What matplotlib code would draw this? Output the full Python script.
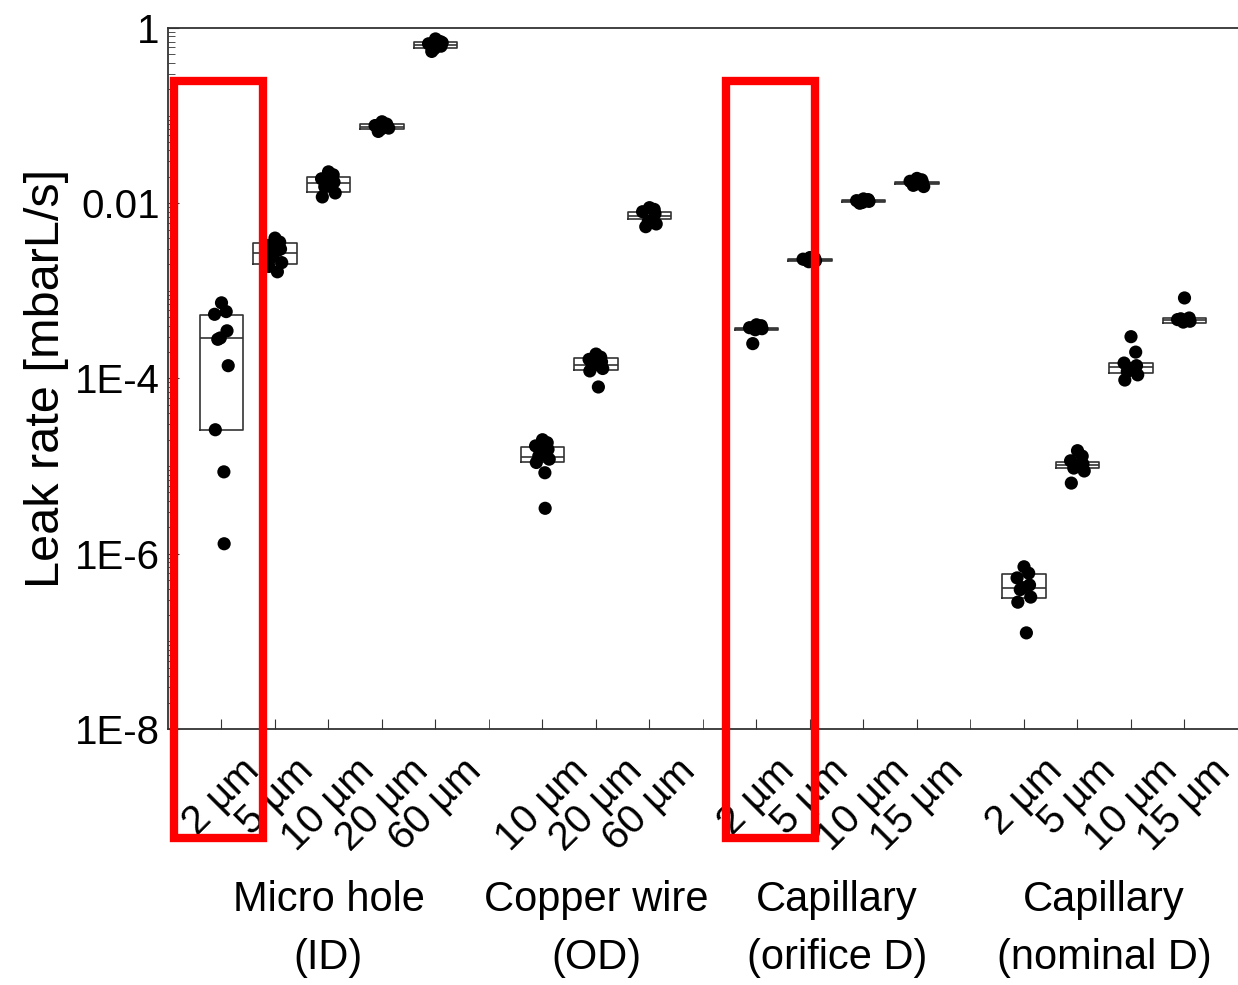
import numpy as np
import matplotlib
matplotlib.use('Agg')
import matplotlib.pyplot as plt
from matplotlib.patches import Rectangle
from matplotlib.ticker import FixedLocator, NullFormatter
import matplotlib.transforms as mtransforms

plt.rcParams['font.family'] = ['Liberation Sans', 'DejaVu Sans']
plt.rcParams['font.size'] = 29

# groups and sizes
group_names = ['Micro hole\n(ID)', 'Copper wire\n(OD)', 'Capillary\n(orifice D)', 'Capillary\n(nominal D)']
group_labels = [
    ['2 µm', '5 µm', '10 µm', '20 µm', '60 µm'],
    ['10 µm', '20 µm', '60 µm'],
    ['2 µm', '5 µm', '10 µm', '15 µm'],
    ['2 µm', '5 µm', '10 µm', '15 µm'],
]

# measured leak rates (mbarL/s)
micro_hole = [
    [7.3e-4, 5.8e-4, 5.4e-4, 3.5e-4, 2.9e-4, 2.8e-4, 1.4e-4, 2.6e-5, 8.6e-6, 1.3e-6],
    [4.0e-3, 3.6e-3, 3.3e-3, 3.0e-3, 2.7e-3, 2.4e-3, 2.1e-3, 1.9e-3, 1.65e-3, 2.9e-3],
    [0.0228, 0.0211, 0.0190, 0.0174, 0.0162, 0.0154, 0.0131, 0.0118],
    [0.085, 0.080, 0.077, 0.074, 0.070, 0.066, 0.072],
    [0.75, 0.70, 0.66, 0.62, 0.58, 0.54, 0.68],
]
copper_wire = [
    [2.0e-5, 1.85e-5, 1.7e-5, 1.55e-5, 1.4e-5, 1.3e-5, 1.2e-5, 1.1e-5, 8.4e-6, 3.3e-6],
    [1.9e-4, 1.75e-4, 1.65e-4, 1.55e-4, 1.45e-4, 1.38e-4, 1.3e-4, 1.22e-4, 8.0e-5],
    [8.9e-3, 8.5e-3, 8.0e-3, 7.6e-3, 6.2e-3, 5.4e-3, 5.8e-3],
]
cap_orifice = [
    [4.1e-4, 4.0e-4, 3.8e-4, 3.7e-4, 3.6e-4, 2.5e-4],
    [2.4e-3, 2.35e-3, 2.3e-3, 2.2e-3, 2.15e-3, 2.25e-3],
    [0.0112, 0.0110, 0.0107, 0.0105, 0.0102, 0.0100],
    [0.0192, 0.0185, 0.0178, 0.0172, 0.0166, 0.0160, 0.0155],
]
cap_nominal = [
    [7.1e-7, 6.0e-7, 5.3e-7, 4.4e-7, 4.1e-7, 3.9e-7, 3.2e-7, 2.8e-7, 1.25e-7],
    [1.5e-5, 1.3e-5, 1.15e-5, 1.05e-5, 1.0e-5, 9.5e-6, 8.8e-6, 6.4e-6],
    [3.0e-4, 2.0e-4, 1.5e-4, 1.4e-4, 1.3e-4, 1.2e-4, 1.1e-4, 9.6e-5],
    [8.3e-4, 4.9e-4, 4.7e-4, 4.5e-4, 4.4e-4, 4.8e-4],
]
all_data = micro_hole + copper_wire + cap_orifice + cap_nominal

# box stats (q1, median, q3)
box_q1 = [2.6e-5, 2.0e-3, 0.0135, 0.0707, 0.595,
          1.12e-5, 1.25e-4, 6.6e-3,
          3.6e-4, 2.2e-3, 0.0104, 0.0167,
          3.1e-7, 9.5e-6, 1.16e-4, 4.31e-4]
box_med = [2.9e-4, 2.7e-3, 0.0171, 0.075, 0.643,
           1.27e-5, 1.43e-4, 7.2e-3,
           3.7e-4, 2.26e-3, 0.0106, 0.0171,
           4.1e-7, 1.03e-5, 1.36e-4, 4.67e-4]
box_q3 = [5.3e-4, 3.5e-3, 0.020, 0.0796, 0.695,
          1.66e-5, 1.72e-4, 8.0e-3,
          3.8e-4, 2.3e-3, 0.0108, 0.0176,
          5.9e-7, 1.12e-5, 1.51e-4, 4.92e-4]

y_ticks = [1e-8, 1e-6, 1e-4, 1e-2, 1]
y_ticklabels = ['1E-8', '1E-6', '1E-4', '0.01', '1']

# red highlight spans (x, in category units)
highlight_spans = [(-0.88, 0.77), (9.43, 11.1)]

# x positions: one empty slot between groups
positions = []
gap_ticks = []
p = 0
for labels in group_labels:
    for _ in labels:
        positions.append(p)
        p += 1
    gap_ticks.append(p)
    p += 1
tick_labels = [l for labels in group_labels for l in labels]

fig = plt.figure(figsize=(12.38, 9.85), dpi=100)
ax = fig.add_axes([0.1357, 0.2599, 0.8643, 0.7117])

stats = []
for q1, med, q3 in zip(box_q1, box_med, box_q3):
    stats.append({'med': med, 'q1': q1, 'q3': q3, 'whislo': q1, 'whishi': q3, 'fliers': []})
ax.bxp(stats, positions=positions, widths=0.82, showcaps=False, showfliers=False,
       boxprops=dict(color='#333333', linewidth=1.2),
       medianprops=dict(color='#333333', linewidth=1.2),
       whiskerprops=dict(linewidth=0), manage_ticks=False)

for pos, vals in zip(positions, all_data):
    n = len(vals)
    jit = 0.13 * np.sin(np.arange(n) * 2.4)
    ax.scatter(pos + jit, vals, s=90, color='black', zorder=3, edgecolors='none')

ax.set_yscale('log')
ax.set_ylim(1e-8, 1)
ax.set_xlim(-1, 19)

# labelled ticks every two decades, minor ticks elsewhere
ax.set_yticks(y_ticks)
ax.set_yticklabels(y_ticklabels)
ax.yaxis.set_minor_locator(FixedLocator(
    [m * 10.0 ** e for e in range(-8, 0) for m in range(1, 10) if not (m == 1 and e % 2 == 0)]))
ax.yaxis.set_minor_formatter(NullFormatter())

ax.set_xticks(positions)
ax.set_xticklabels(tick_labels, rotation=45, ha='center')
ax.set_xticks(gap_ticks, minor=True)
offset = mtransforms.ScaledTranslation(-14 / 100, 0, fig.dpi_scale_trans)
for lbl in ax.get_xticklabels():
    lbl.set_transform(lbl.get_transform() + offset)

ax.tick_params(axis='both', which='both', direction='in', color='#333333')
ax.tick_params(axis='x', which='both', length=7, pad=16)
ax.tick_params(axis='y', which='major', length=8, pad=6)
ax.tick_params(axis='y', which='minor', length=5)
ax.spines['right'].set_visible(False)
for s in ['left', 'top', 'bottom']:
    ax.spines[s].set_color('#333333')
    ax.spines[s].set_linewidth(1.3)

ax.set_ylabel('Leak rate [mbarL/s]', fontsize=35, labelpad=4)

# group names below the tick labels
start = 0
for name, labels in zip(group_names, group_labels):
    mid = np.mean(positions[start:start + len(labels)])
    start += len(labels)
    ax.text(mid, -0.215, name, transform=ax.get_xaxis_transform(), ha='center', va='top',
            fontsize=30, linespacing=1.6)

# red highlight boxes
for x0, x1 in highlight_spans:
    rect = Rectangle((x0, -0.155), x1 - x0, 1.079, transform=ax.get_xaxis_transform(),
                     fill=False, edgecolor='#ff0000', linewidth=6, clip_on=False, zorder=5)
    ax.add_patch(rect)

fig.savefig('out.png', dpi=100)
